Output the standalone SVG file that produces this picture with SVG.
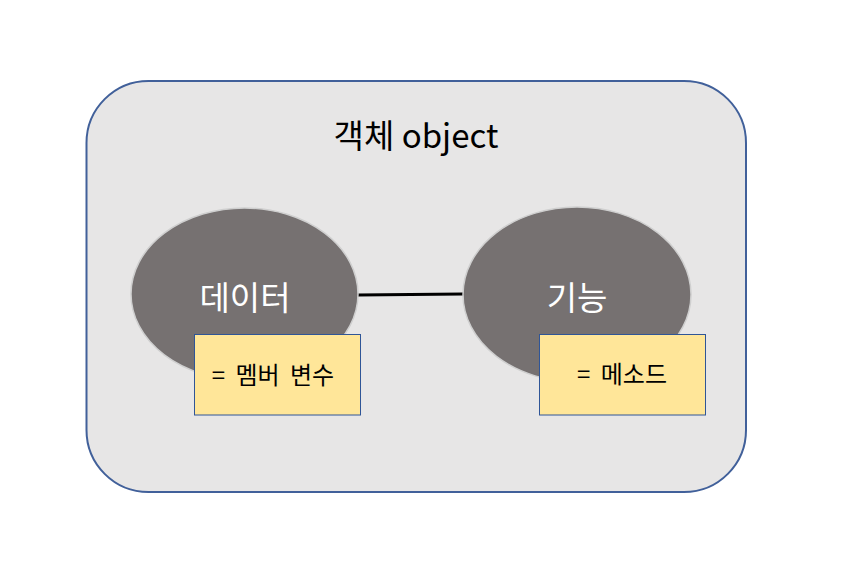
<svg xmlns="http://www.w3.org/2000/svg" width="842" height="568" viewBox="0 0 842 568">
<style>
.ell{fill:#767171;stroke:#cfcfcf;stroke-width:1.5}
.box{fill:#FFE699;stroke:#2F5597;stroke-width:1}
text{font-family:"Noto Sans CJK KR","Noto Sans",sans-serif;text-anchor:middle}
.w{fill:#ffffff;font-size:33px}
.b{fill:#000000;font-size:24px;word-spacing:5px}
</style>
<rect width="842" height="568" fill="#ffffff"/>
<g id="object">
<rect x="86.5" y="81" width="659.5" height="411" rx="62" ry="62" fill="#E7E6E6" stroke="#41609A" stroke-width="2"/>
<text x="416" y="148" style="font-size:33px;fill:#000">객체 object</text>
</g>
<g id="connectors">
<line x1="358" y1="295" x2="463" y2="294" stroke="#000" stroke-width="3"/>
</g>
<g id="data">
<ellipse class="ell" cx="244.5" cy="294" rx="113.5" ry="86"/>
<text class="w" x="245" y="310">데이터</text>
</g>
<g id="function">
<ellipse class="ell" cx="577" cy="294.5" rx="114" ry="87.5"/>
<text class="w" x="577" y="310">기능</text>
</g>
<g id="member-var">
<rect class="box" x="194.5" y="334.5" width="166" height="80.5"/>
<text class="b" x="273" y="384">= 멤버 변수</text>
</g>
<g id="method">
<rect class="box" x="539.5" y="334.5" width="166" height="80.5"/>
<text class="b" x="622" y="383">= 메소드</text>
</g>
</svg>
